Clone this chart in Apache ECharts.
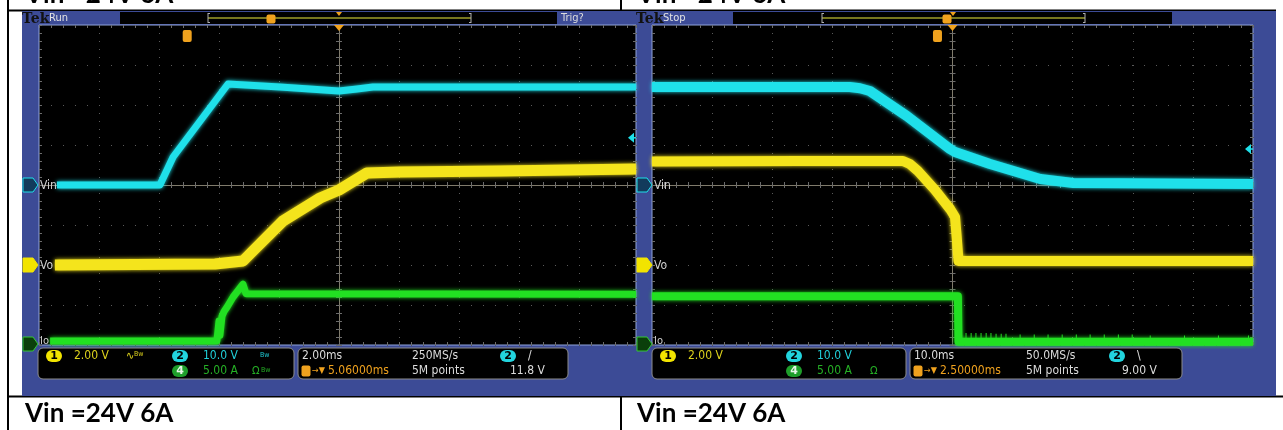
<!DOCTYPE html>
<html>
<head>
<meta charset="utf-8">
<script src="https://cdn.jsdelivr.net/npm/echarts@6/dist/echarts.min.js"></script>
<style>
  html, body { margin: 0; padding: 0; background: #ffffff; }
  #c { width: 1283px; height: 430px; }
</style>
</head>
<body>
<div id="c"></div>
<script>
// ---- Power-up capture: 2 ms/div, times in ms relative to screen centre ----
const upVinT = [-9.4, -5.97, -5.53, -3.7, -1.97, 0, 0.6, 1.13, 3.37, 9.9];
const upVinV = [0, 0, 7, 25.25, 24.5, 23.5, 24.0, 24.5, 24.5, 24.5];          // V
const upVoT  = [-9.47, -4.13, -3.2, -2.97, -1.87, -0.63, 0, 0.93, 2.03, 5.37, 9.9];
const upVoV  = [0, 0.05, 0.2, 0.55, 2.2, 3.35, 3.75, 4.6, 4.65, 4.7, 4.8];    // V
const upIoT  = [-9.63, -4.07, -4.0, -3.97, -3.9, -3.83, -3.73, -3.53, -3.2, -3.1, 9.9];
const upIoA  = [0.5, 0.5, 3.0, 1.2, 3.6, 4.2, 4.75, 6.0, 7.6, 6.4, 6.35];     // A

// ---- Power-down capture: 10 ms/div ----
const dnVinT = [-50, -17.1, -15.4, -13.75, -7.6, -0.42, 0.42, 6.25, 14.6, 20.1, 50];
const dnVinV = [24.5, 24.5, 24.2, 23.5, 17.25, 9.0, 8.25, 5.25, 1.5, 0.5, 0.25];
const dnVoT  = [-50, -25.4, -8.25, -7.1, -5.75, -4.4, -2.9, -1.6, -0.4, 0.42, 0.75, 1.0, 50];
const dnVoV  = [5.17, 5.2, 5.2, 5.05, 4.7, 4.25, 3.75, 3.25, 2.8, 2.4, 1.2, 0.2, 0.2];
const dnIoT  = [-50, 0.9, 1.0, 50];
const dnIoA  = [6.1, 6.1, 0.4, 0.4];
const dnSpikeT = [1.4, 2.25, 3.1, 3.9, 4.75, 5.6, 6.4, 7.25, 8.1, 8.9,
                  11.25, 13.6, 15.9, 18.25, 20.6, 22.9, 25.25, 27.6, 29.9,
                  32.9, 38.6, 44.25, 49.25];
const dnSpikeA = [1.5, 1.5, 1.5, 1.5, 1.5, 1.5, 1.5, 1.4, 1.4, 1.4,
                  1.3, 1.3, 1.3, 1.3, 1.3, 1.3, 1.3, 1.3, 1.3,
                  1.2, 1.2, 1.2, 1.2];

// ---- Acquisition settings shown in the readouts ----
const upTrigLevel = 11.8;   // V, rising edge on ch2
const dnTrigLevel = 9.0;    // V, falling edge on ch2
const upDelay = 5.06;       // ms
const dnDelay = 2.5;        // ms
const caption = 'Vin =24V 6A';

const CYAN = '#1fe0ea', YEL = '#f4e41c', GRN = '#22e022';
const BLUE = '#3c4b96', ORANGE = '#f0a21e';
const TICK = '#6c6c6c', DOT = '#5a5a5a', CROSS = '#807b6c';
const FONT = '"Liberation Sans Narrow","DejaVu Sans Condensed","Roboto Condensed",sans-serif';

function pairs(t, v) { return t.map((x, i) => [x, v[i]]); }

const tickStyle = { show: true, inside: true, length: 3, lineStyle: { color: TICK } };
const minorStyle = { show: true, splitNumber: 5, length: 3, lineStyle: { color: TICK } };

function xAxesFor(g, min, max, interval) {
  const yc = g * 6;
  const base = { gridIndex: g, type: 'value', min, max, interval, z: 3,
                 axisLabel: { show: false }, splitLine: { show: false } };
  return [
    Object.assign({}, base, { position: 'bottom', axisLine: { show: false, onZero: false },
      axisTick: tickStyle, minorTick: minorStyle,
      splitLine: { show: true, lineStyle: { color: DOT, width: 1, type: [1, 7] } } }),
    Object.assign({}, base, { position: 'top', axisLine: { show: false, onZero: false },
      axisTick: tickStyle, minorTick: minorStyle }),
    Object.assign({}, base, { position: 'bottom',
      axisLine: { show: true, onZero: true, onZeroAxisIndex: yc, lineStyle: { color: CROSS } },
      axisTick: tickStyle, minorTick: minorStyle }),
    Object.assign({}, base, { position: 'top',
      axisLine: { show: true, onZero: true, onZeroAxisIndex: yc, lineStyle: { color: CROSS } },
      axisTick: tickStyle, minorTick: minorStyle })
  ];
}

function yAxesFor(g) {
  const xc = g * 4 + 2;
  const base = { gridIndex: g, type: 'value', z: 3, axisLabel: { show: false }, splitLine: { show: false } };
  const ch2 = { min: -40, max: 40, interval: 10 };
  return [
    Object.assign({}, base, ch2, { position: 'left', axisLine: { show: false, onZero: false },
      axisTick: tickStyle, minorTick: minorStyle,
      splitLine: { show: true, lineStyle: { color: DOT, width: 1, type: [1, 11] } } }),
    Object.assign({}, base, ch2, { position: 'right', axisLine: { show: false, onZero: false },
      axisTick: tickStyle, minorTick: minorStyle }),
    Object.assign({}, base, ch2, { position: 'left',
      axisLine: { show: true, onZero: true, onZeroAxisIndex: xc, lineStyle: { color: CROSS } },
      axisTick: tickStyle, minorTick: minorStyle }),
    Object.assign({}, base, ch2, { position: 'right',
      axisLine: { show: true, onZero: true, onZeroAxisIndex: xc, lineStyle: { color: CROSS } },
      axisTick: tickStyle, minorTick: minorStyle }),
    Object.assign({}, base, { show: false, min: -4, max: 12 }),   // ch1, 2 V/div
    Object.assign({}, base, { show: false, min: 0, max: 40 })     // ch4, 5 A/div
  ];
}

function trace(xi, yi, data, color, width) {
  return { type: 'line', xAxisIndex: xi, yAxisIndex: yi, data, showSymbol: false, symbol: 'none',
           silent: true, z: 4, clip: true,
           lineStyle: { color, width, join: 'round', shadowBlur: 4, shadowColor: color } };
}

const chart = echarts.init(document.getElementById('c'));
chart.setOption({
  animation: false,
  backgroundColor: '#ffffff',
  grid: [
    { left: 39, top: 25, width: 597, height: 320, show: true, backgroundColor: '#000',
      borderColor: '#8fa3da', borderWidth: 1 },
    { left: 652, top: 25, width: 601, height: 320, show: true, backgroundColor: '#000',
      borderColor: '#8fa3da', borderWidth: 1 }
  ],
  xAxis: xAxesFor(0, -10, 9.9, 2).concat(xAxesFor(1, -50, 50, 10)),
  yAxis: yAxesFor(0).concat(yAxesFor(1)),
  series: [
    trace(0, 4, pairs(upVoT, upVoV), YEL, 11),
    trace(0, 0, pairs(upVinT, upVinV), CYAN, 7),
    trace(0, 5, pairs(upIoT, upIoA), GRN, 7),
    trace(4, 6, pairs(dnVinT, dnVinV), CYAN, 10),
    trace(4, 10, pairs(dnVoT, dnVoV), YEL, 10),
    trace(4, 11, pairs(dnIoT, dnIoA), GRN, 8),
    { type: 'bar', xAxisIndex: 4, yAxisIndex: 11, data: pairs(dnSpikeT, dnSpikeA),
      barWidth: 1, silent: true, z: 4, itemStyle: { color: GRN } }
  ]
});

// ---------- screen furniture ----------
const G = [];
function txt(x, y, s, fill, size, extra) {
  G.push({ type: 'text', x, y, z: 20, silent: true,
    style: Object.assign({ text: s, fill, fontSize: size, fontFamily: FONT,
      align: 'left', verticalAlign: 'middle' }, extra || {}) });
}
function rect(x, y, w, h, style, z, r) {
  G.push({ type: 'rect', shape: { x, y, width: w, height: h, r: r || 0 }, style, z: z == null ? 20 : z, silent: true });
}
function seg(x1, y1, x2, y2, stroke, w, z) {
  G.push({ type: 'line', shape: { x1, y1, x2, y2 }, style: { stroke, lineWidth: w }, z: z == null ? 20 : z, silent: true });
}
function poly(points, fill, stroke, z) {
  G.push({ type: 'polygon', shape: { points }, style: { fill, stroke: stroke || null, lineWidth: 1 }, z: z == null ? 20 : z, silent: true });
}
function badge(cx, cy, digit, fill, digitColor) {
  rect(cx - 8, cy - 6, 16, 12, { fill }, 20, 6);
  txt(cx, cy + 0.5, digit, digitColor, 11, { align: 'center', fontWeight: 'bold', fontFamily: 'DejaVu Sans' });
}
function tIcon(cx, cy, h) {
  rect(cx - 4.5, cy - h / 2, 9, h, { fill: ORANGE }, 21, 2);
  txt(cx, cy, 'T', '#000', h - 2, { align: 'center', fontWeight: 'bold', fontFamily: 'DejaVu Sans' });
}
function chMarker(x, y, digit, fill, stroke, digitColor) {
  poly([[x, y - 7], [x + 10, y - 7], [x + 15, y], [x + 10, y + 7], [x, y + 7]], fill, stroke, 21);
  txt(x + 6, y + 0.5, digit, digitColor, 12, { align: 'center', fontWeight: 'bold', fontFamily: 'DejaVu Sans' });
}

const px = (axis, v) => chart.convertToPixel(axis, v);

// page table rules and captions
seg(8, 0, 8, 430, '#000', 2, -15);
seg(621, 0, 621, 11, '#000', 2, -15);
seg(621, 396, 621, 430, '#000', 2, -15);
seg(8, 10.5, 1276, 10.5, '#000', 2, -15);
seg(8, 396.5, 1283, 396.5, '#000', 2, -15);
[25, 637].forEach(x => {
  txt(x, 414, caption, '#000', 26, { fontFamily: 'Lato, "Open Sans", sans-serif', fontWeight: 'bold' });
  txt(x, -5, caption, '#000', 26, { fontFamily: 'Lato, "Open Sans", sans-serif', fontWeight: 'bold' });
});

// instrument bezels
rect(22, 11, 630, 385, { fill: BLUE }, -10);
rect(636, 11, 640, 385, { fill: BLUE }, -9);

function scope(o) {
  const xi = o.grid * 4, yi = o.grid * 6;
  const cx = px({ xAxisIndex: xi }, 0);
  const top = 25;
  // header strip
  txt(o.x0, 19, 'Tek', '#111', 14, { fontFamily: '"DejaVu Serif", serif', fontWeight: 'bold' });
  txt(o.x0 + 27, 18, o.status, '#e4e4e4', 11);
  rect(o.boxX, 12, o.boxW, 12, { fill: '#000' }, 19);
  seg(o.lineX1, 18, o.lineX2, 18, '#77771f', 2, 20);
  [o.lineX1, o.lineX2].forEach((lx, k) => {
    seg(lx, 13, lx, 23, '#b0b0b0', 1, 20);
    const d = k === 0 ? 2 : -2;
    seg(lx, 13.5, lx + d, 13.5, '#b0b0b0', 1, 20);
    seg(lx, 22.5, lx + d, 22.5, '#b0b0b0', 1, 20);
  });
  tIcon(o.recT, 19, 9);
  poly([[o.recTrig - 3, 12], [o.recTrig + 3, 12], [o.recTrig, 16]], ORANGE, null, 21);
  if (o.trigText) txt(o.trigText, 18, 'Trig?', '#dcdcdc', 11);

  // trigger position and trigger point
  poly([[cx - 5, top], [cx + 5, top], [cx, top + 6]], ORANGE, null, 21);
  tIcon(px({ xAxisIndex: xi }, -o.delay), 36, 12);
  // trigger level arrow at right edge
  const ly = px({ yAxisIndex: yi }, o.level);
  const rx = o.rightEdge;
  poly([[rx - 8, ly], [rx - 2, ly - 5], [rx - 2, ly + 5]], CYAN, null, 21);
  seg(rx - 3, ly, rx, ly, CYAN, 1.5, 21);

  // channel ground markers
  const mx = o.markerX;
  const g2 = px({ yAxisIndex: yi }, 0), g1 = px({ yAxisIndex: yi + 4 }, 0), g4 = px({ yAxisIndex: yi + 5 }, 0);
  chMarker(mx, g2, '2', '#123b5c', CYAN, CYAN);
  txt(mx + 17, g2 + 1, 'Vin', '#cfcfcf', 12);
  chMarker(mx, g1, '1', '#f2e400', '#f2e400', '#000');
  txt(mx + 17, g1 + 1, 'Vo', '#cfcfcf', 12);
  chMarker(mx, g4 - 1, '4', '#0b3f0b', '#35c835', '#d6ecd6');
  txt(mx + 17, g4 - 4, 'Io', '#cfcfcf', 11);

  // readout boxes
  const r1 = 356, r2 = 371;
  rect(o.b1x, 348, o.b1w, 31, { fill: '#000', stroke: '#8c8c8c', lineWidth: 1 }, 19, 5);
  rect(o.b2x, 348, o.b2w, 31, { fill: '#000', stroke: '#8c8c8c', lineWidth: 1 }, 19, 5);
  const a = o.b1x;
  badge(a + 16, r1, '1', '#f2e400', '#000');
  txt(a + 36, r1, '2.00 V', '#ddd21c', 12);
  if (o.bw) {
    txt(a + 88, r1, '\u223F', '#ddd21c', 11);
    txt(a + 96, r1 - 2, 'Bw', '#ddd21c', 7);
  }
  badge(a + 142, r1, '2', '#22d4de', '#000');
  txt(a + 165, r1, '10.0 V', '#20cfd9', 12);
  if (o.bw) txt(a + 222, r1 - 1, 'Bw', '#20cfd9', 7);
  badge(a + 142, r2, '4', '#1e9e2a', '#e8f5e8');
  txt(a + 165, r2, '5.00 A', '#25b025', 12);
  txt(a + (o.bw ? 214 : 218), r2, '\u03A9', '#25b025', 11);
  if (o.bw) txt(a + 223, r2 - 1, 'Bw', '#25b025', 7);

  const b = o.b2x;
  txt(b + 4, r1, o.tdiv, '#dcdcdc', 12);
  txt(b + o.srX, r1, o.srate, '#dcdcdc', 12);
  badge(b + o.chX, r1, '2', '#22d4de', '#000');
  txt(b + o.chX + 20, r1, o.slope, '#e0e0e0', 12);
  tIcon(b + 8, r2, 11);
  txt(b + 14, r2, '\u2192\u25BC' , ORANGE, 9);
  txt(b + 30, r2, o.delay.toFixed(5) + 'ms', ORANGE, 12);
  txt(b + o.srX, r2, '5M points', '#dcdcdc', 12);
  txt(b + o.lvX, r2, o.level.toFixed(o.levelDigits) + ' V', '#dcdcdc', 12);
}

scope({ grid: 0, x0: 22, status: 'Run', boxX: 120, boxW: 437, lineX1: 208, lineX2: 471,
        recT: 271, recTrig: 339, trigText: 561, delay: upDelay, level: upTrigLevel, levelDigits: 1,
        rightEdge: 636, markerX: 23, b1x: 38, b1w: 256, b2x: 298, b2w: 270, bw: true,
        tdiv: '2.00ms', srate: '250MS/s', srX: 114, chX: 210, slope: '/', lvX: 212 });
scope({ grid: 1, x0: 636, status: 'Stop', boxX: 733, boxW: 439, lineX1: 822, lineX2: 1085,
        recT: 947, recTrig: 953, trigText: null, delay: dnDelay, level: dnTrigLevel, levelDigits: 2,
        rightEdge: 1253, markerX: 637, b1x: 652, b1w: 254, b2x: 910, b2w: 272, bw: false,
        tdiv: '10.0ms', srate: '50.0MS/s', srX: 116, chX: 207, slope: '\\', lvX: 212 });

chart.setOption({ graphic: { elements: G } });
</script>
</body>
</html>
